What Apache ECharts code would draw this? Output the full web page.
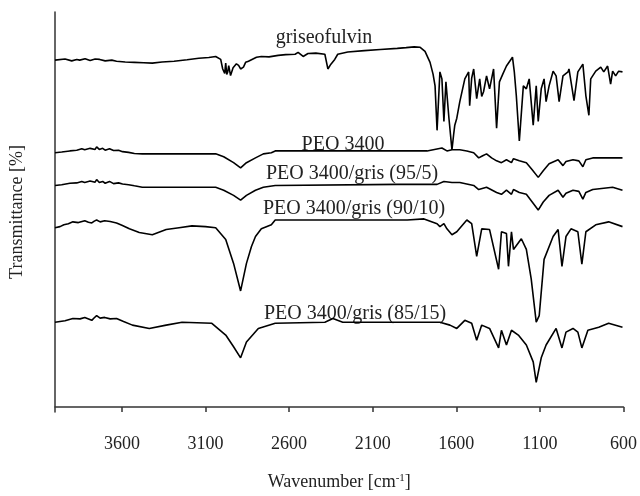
<!DOCTYPE html>
<html><head><meta charset="utf-8">
<script src="https://cdn.jsdelivr.net/npm/echarts@6/dist/echarts.min.js"></script>
<style>html,body{margin:0;padding:0;background:#fff}#c{width:640px;height:496px}</style>
</head><body><div id="c"></div>
<script>
// x-axis tick labels (wavenumber, cm^-1)
const tickValues = [600, 1100, 1600, 2100, 2600, 3100, 3600];
const seriesNames = ['griseofulvin', 'PEO 3400', 'PEO 3400/gris (95/5)', 'PEO 3400/gris (90/10)', 'PEO 3400/gris (85/15)'];

// griseofulvin
const griseoWn = [4000,3940,3900,3870,3852,3820,3790,3760,3733,3700,3660,3632,3580,3525,3470,3418,3360,3288,3210,3140,3080,3039,3009,2997,2991,2985,2979,2973,2967,2961,2956,2950,2944,2935,2926,2915,2902,2890,2873,2860,2843,2795,2766,2720,2665,2620,2564,2546,2516,2487,2440,2386,2368,2350,2327,2309,2249,2150,2054,1953,1900,1852,1816,1787,1757,1739,1727,1715,1698,1686,1674,1662,1644,1626,1615,1609,1597,1579,1549,1526,1520,1508,1496,1478,1460,1448,1437,1419,1401,1377,1359,1342,1320,1300,1264,1253,1241,1223,1199,1181,1164,1140,1122,1110,1092,1075,1063,1045,1021,1003,985,962,932,926,896,873,843,825,807,796,766,736,718,695,677,665,647,629,606];
const griseoT  = [94.4,94.7,94.2,94.6,94.4,94.8,94.3,94.7,94.6,94.2,94.4,94.1,93.9,93.8,93.7,93.6,93.9,94.1,94.5,94.9,95.1,95.4,94.6,92.0,92.5,90.8,93.6,90.5,91.2,92.9,92.8,90.2,90.6,92.3,91.8,93.4,93.0,92.0,92.5,93.8,94.1,95.2,95.4,95.3,95.7,95.9,96.0,96.5,95.4,96.2,96.3,96.0,92.0,93.3,94.6,96.0,96.6,97.0,97.3,97.6,97.8,98.0,97.9,96.8,93.8,90.6,87.4,75.3,91.2,89.3,77.7,88.5,78.6,70.0,74.5,76.7,78.6,83.1,89.3,91.2,82.0,89.5,92.0,83.9,89.3,84.5,85.8,90.1,86.6,92.0,75.9,88.5,90.8,92.8,95.2,91.2,84.7,72.4,87.4,86.6,89.3,76.7,87.4,77.7,86.6,89.3,83.1,87.4,91.4,90.1,83.1,90.1,91.2,92.0,83.4,91.2,93.3,84.7,79.4,89.3,91.4,92.5,91.2,92.8,87.9,91.4,90.1,91.4,91.2];

// PEO 3400
const peoWn = [4000,3960,3911,3870,3840,3822,3790,3760,3751,3735,3715,3700,3674,3650,3620,3596,3560,3525,3478,3258,3039,2991,2932,2890,2855,2801,2754,2706,2683,2368,1953,1775,1686,1656,1626,1579,1537,1496,1466,1442,1419,1389,1359,1330,1300,1270,1258,1223,1181,1146,1110,1080,1045,991,962,944,902,867,843,825,784,606];
const peoT  = [69.2,69.4,69.7,69.9,70.3,70.0,70.4,70.1,70.8,70.1,70.4,69.9,70.3,69.8,69.9,69.5,69.3,69.0,68.9,68.9,68.9,68.1,66.5,65.1,66.5,67.8,68.9,69.2,69.7,69.7,69.7,69.7,70.5,69.7,70.0,70.0,69.7,69.2,67.8,68.4,68.9,67.8,67.0,66.5,67.3,66.5,67.6,67.0,66.5,64.6,62.5,64.3,66.2,67.3,65.7,66.8,67.3,67.0,65.4,67.3,67.8,67.8];

// PEO 3400/gris (95/5)
const g95Wn = [4000,3960,3911,3870,3840,3822,3790,3760,3751,3735,3715,3700,3674,3650,3620,3596,3560,3525,3478,3039,2991,2932,2890,2855,2801,2754,2683,1953,1715,1674,1626,1579,1496,1466,1419,1359,1330,1300,1270,1258,1223,1181,1146,1110,1080,1045,991,962,944,902,867,843,825,784,665,606];
const g95T  = [60.3,60.5,60.9,61.0,61.4,61.1,61.5,61.2,61.9,61.1,61.4,60.9,61.4,60.8,61.0,60.7,60.5,60.2,59.8,59.8,59.0,57.6,56.3,57.6,59.0,59.8,60.3,60.6,60.6,61.4,61.1,61.1,60.3,59.2,59.8,58.4,57.9,59.0,57.9,59.2,58.4,57.9,55.8,53.6,55.8,57.6,59.0,57.1,58.2,59.0,58.7,56.6,58.4,59.2,59.8,59.0];

// PEO 3400/gris (90/10)
const g90Wn = [4000,3970,3947,3920,3893,3860,3822,3800,3780,3765,3751,3730,3703,3670,3632,3600,3555,3496,3418,3335,3258,3181,3100,3039,2979,2932,2890,2855,2825,2801,2766,2706,2683,2309,1893,1793,1715,1698,1674,1656,1626,1597,1537,1508,1478,1448,1401,1347,1330,1300,1288,1270,1258,1211,1181,1152,1122,1104,1075,1021,991,968,944,914,873,849,825,766,689,606];
const g90T  = [48.8,49.1,49.6,49.9,50.4,50.2,50.7,50.3,50.1,50.6,50.9,50.4,50.7,50.5,50.1,49.5,48.5,47.5,46.9,48.3,48.8,49.3,49.1,48.8,45.6,39.1,31.6,39.1,43.7,46.4,48.5,49.6,50.9,50.9,50.9,51.2,49.9,49.1,49.9,48.5,46.9,47.7,50.9,49.9,41.0,48.5,48.3,37.5,47.7,47.2,38.3,47.7,42.9,45.8,42.9,34.9,23.1,24.9,40.2,46.4,48.3,38.3,46.4,48.5,47.7,38.9,47.7,49.6,50.4,49.1];

// PEO 3400/gris (85/15)
const g85Wn = [4000,3940,3893,3850,3822,3780,3765,3751,3730,3703,3670,3632,3590,3537,3436,3335,3240,3062,2979,2932,2890,2855,2784,2683,2386,2338,2279,1953,1698,1638,1597,1549,1508,1478,1448,1401,1347,1330,1300,1270,1229,1181,1140,1122,1092,1063,1003,968,944,902,873,849,813,748,689,606];
const g85T  = [23.1,23.5,24.1,24.0,24.4,23.6,24.3,24.9,24.2,24.4,24.0,24.1,23.3,22.3,21.4,22.3,23.1,22.8,19.6,16.4,13.4,17.7,21.4,22.8,23.1,24.1,23.1,23.1,23.1,22.3,21.4,23.6,22.8,18.2,22.3,21.4,16.1,20.9,16.9,20.9,19.6,16.9,12.3,6.7,13.4,16.9,21.4,16.1,20.4,21.4,20.4,16.1,20.9,21.7,22.8,21.7];

const FONT = "'Liberation Serif','Times New Roman',serif";
const zip = (a, b) => a.map((x, i) => [x, b[i]]);
const all = [[griseoWn, griseoT], [peoWn, peoT], [g95Wn, g95T], [g90Wn, g90T], [g85Wn, g85T]];

// label anchor positions (layout)
const labelPos = [[324, 38], [343, 145], [352, 174], [354, 209], [355, 314]];

const chart = echarts.init(document.getElementById('c'));
chart.setOption({
  animation: false,
  backgroundColor: '#fff',
  grid: { left: 55, right: 12, top: 12, bottom: 78 },
  xAxis: {
    type: 'value', inverse: true, min: 600, max: 4000,
    name: 'Wavenumber [cm{sup|-1}]', nameLocation: 'middle', nameGap: 61,
    nameTextStyle: { fontFamily: FONT, fontSize: 18, color: '#222',
      rich: { sup: { fontFamily: FONT, fontSize: 11, color: '#222', verticalAlign: 'top', lineHeight: 18 } } },
    axisLine: { show: true, lineStyle: { color: '#333', width: 1.5 } },
    axisTick: { show: true, length: 5, inside: false, customValues: tickValues, lineStyle: { color: '#333', width: 1.5 } },
    axisLabel: { customValues: tickValues, formatter: v => String(v), fontFamily: FONT, fontSize: 18, color: '#222', margin: 23 },
    splitLine: { show: false }
  },
  yAxis: {
    type: 'value', min: -1.34, max: 107.5,
    name: 'Transmittance [%]', nameLocation: 'middle', nameGap: 29,
    nameTextStyle: { fontFamily: FONT, fontSize: 18, color: '#222' },
    axisLine: { show: true, lineStyle: { color: '#333', width: 1.5 } },
    axisTick: { show: false }, axisLabel: { show: false }, splitLine: { show: false }
  },
  series: all.map((d, i) => ({
    name: seriesNames[i], type: 'line', data: zip(d[0], d[1]),
    showSymbol: false, symbol: 'none',
    lineStyle: { color: '#000', width: 1.6 }
  })),
  graphic: seriesNames.map((n, i) => ({
    type: 'text', x: labelPos[i][0], y: labelPos[i][1],
    style: { text: n, font: '20px ' + FONT, fill: '#222', align: 'center', verticalAlign: 'middle' }
  }))
});
</script>
</body></html>
